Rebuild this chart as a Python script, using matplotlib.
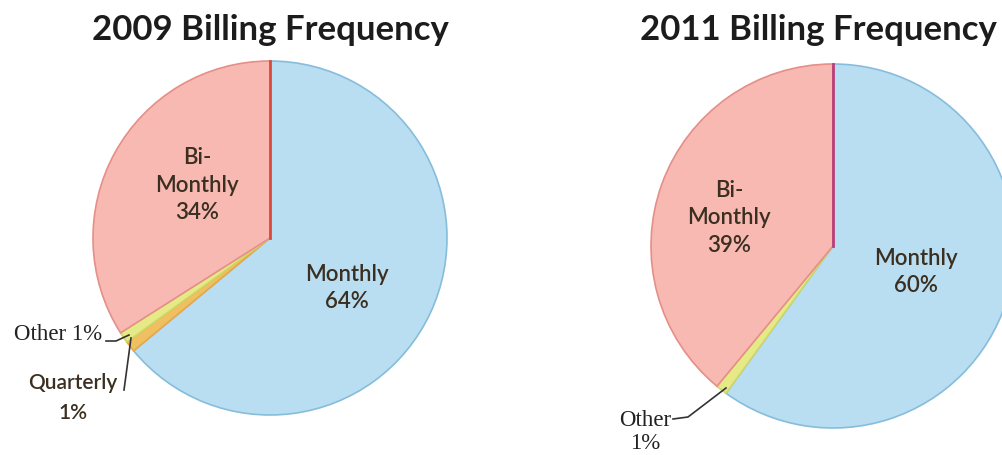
import matplotlib.pyplot as plt

W, H = 1003, 456

categories_2009 = ["Monthly", "Quarterly", "Other", "Bi-Monthly"]
shares_2009 = [64, 1, 1, 34]

categories_2011 = ["Monthly", "Other", "Bi-Monthly"]
shares_2011 = [60, 1, 39]

colors = {
    "Monthly": "#b9ddf1",
    "Quarterly": "#f0c060",
    "Other": "#e6ea86",
    "Bi-Monthly": "#f7b9b2",
}
edges = {
    "Monthly": "#86bddc",
    "Quarterly": "#e8a848",
    "Other": "#cfd66a",
    "Bi-Monthly": "#e58f88",
}

SANS = ["Lato", "DejaVu Sans"]
SERIF = ["Liberation Serif", "DejaVu Serif"]
INK = "#3a2f20"


def draw_pie(ax, cats, vals, center, radius, top_edge):
    wedges, _ = ax.pie(vals, colors=[colors[c] for c in cats], startangle=90,
                       counterclock=False, center=center, radius=radius,
                       wedgeprops=dict(linewidth=1.2))
    for w, c in zip(wedges, cats):
        w.set_edgecolor(edges[c])
    # vertical boundary at 12 o'clock
    cx, cy = center
    ax.plot([cx, cx], [cy, cy + radius], color=top_edge, lw=2.0, zorder=3)
    return wedges


def inner(ax, x, y, s):
    ax.text(x, y, s, ha="center", va="center", fontsize=16, family=SANS,
            fontweight="semibold", color=INK, linespacing=1.38)


def main():
    fig = plt.figure(figsize=(W / 100, H / 100), dpi=100)
    ax = fig.add_axes([0, 0, 1, 1])

    # 2009
    draw_pie(ax, categories_2009, shares_2009, (270, H - 239), 177, "#dc4a3c")
    ax.text(270, H - 30, "2009 Billing Frequency", ha="center", va="center",
            fontsize=25, fontweight="bold", family=SANS, color="#1c1c1c")
    inner(ax, 197, H - 185, f"Bi-\nMonthly\n{shares_2009[3]}%")
    inner(ax, 347, H - 288, f"Monthly\n{shares_2009[0]}%")
    ax.text(102, H - 335, f"Other {shares_2009[2]}%", ha="right", va="center",
            fontsize=16.5, family=SERIF, color="#222222")
    ax.plot([106, 116, 129], [H - 342, H - 342, H - 336], color="#333333", lw=1.2)
    ax.text(73, H - 398, f"Quarterly\n{shares_2009[1]}%", ha="center", va="center",
            fontsize=15, family=SANS, fontweight="semibold", color=INK,
            linespacing=1.6)
    ax.plot([124, 131], [H - 391, H - 339], color="#333333", lw=1.2)

    # 2011
    draw_pie(ax, categories_2011, shares_2011, (833, H - 247), 182, "#b8407a")
    ax.text(818, H - 30, "2011 Billing Frequency", ha="center", va="center",
            fontsize=25, fontweight="bold", family=SANS, color="#1c1c1c")
    inner(ax, 729, H - 218, f"Bi-\nMonthly\n{shares_2011[2]}%")
    inner(ax, 916, H - 272, f"Monthly\n{shares_2011[0]}%")
    ax.text(645, H - 432, f"Other\n{shares_2011[1]}%", ha="center", va="center",
            fontsize=16.5, family=SERIF, color="#222222", linespacing=1.15)
    ax.plot([673, 688, 726], [H - 420, H - 418, H - 389], color="#333333", lw=1.2)

    # pie() resets the limits, so fix the pixel frame last
    ax.set_xlim(0, W)
    ax.set_ylim(0, H)
    ax.set_aspect("equal")
    ax.axis("off")

    fig.savefig("out.png", dpi=100)


if __name__ == "__main__":
    main()
